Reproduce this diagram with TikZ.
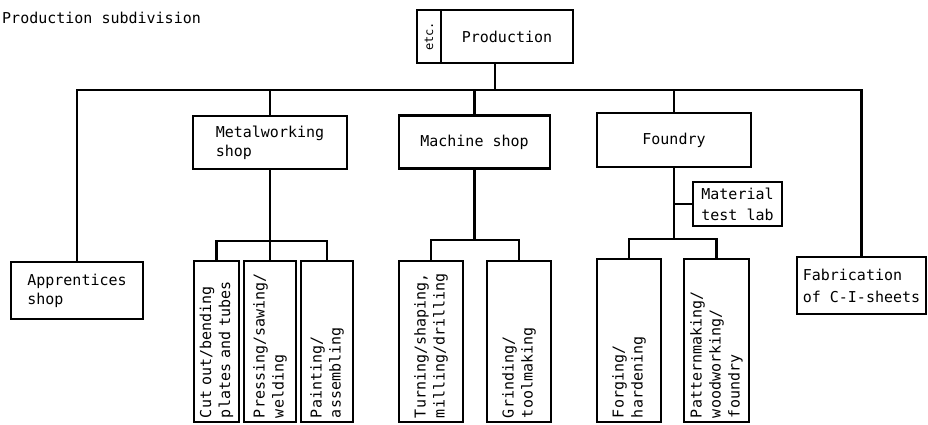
\documentclass[tikz,border=0pt]{standalone}
\usepackage{fontspec}
\setmonofont{DejaVu Sans Mono}
\usetikzlibrary{calc}
\begin{document}
\begin{tikzpicture}[x=1pt,y=-1pt,
  every node/.style={font=\ttfamily\fontsize{15}{19}\selectfont},
  conn/.style={line width=2.2pt, line join=miter},
  hbox/.style={draw, line width=2.2pt, inner sep=0pt, align=left},
  vbox/.style={draw, line width=2.2pt, rotate=90, inner xsep=4pt, inner ysep=0pt,
               align=left, text width=153pt, minimum height=#1},
]
\useasboundingbox (0,0) rectangle (928,424);

% title
\node[anchor=west, inner sep=0pt] (title) at (2,18) {Production subdivision};

% top box
\node[draw, line width=2.2pt, rotate=90, inner sep=0pt, minimum width=53pt,
      minimum height=24pt, font=\ttfamily\fontsize{12}{14}\selectfont] (etc) at (429,36.5) {etc.};
\node[hbox, minimum width=132pt, minimum height=53pt] (prod) at (507,36.5) {Production};
\coordinate (pstem) at ([xshift=-12pt]prod.south);

% second level
\node[hbox, minimum width=132pt, minimum height=57pt] (appr) at (77,290.5) {Apprentices\\shop};
\node[hbox, minimum width=154pt, minimum height=53pt] (metal) at (270,142.5) {Metalworking\\shop};
\node[hbox, minimum width=151pt, minimum height=53pt] (mach) at (474.5,142) {Machine shop};
\node[hbox, minimum width=154pt, minimum height=54pt] (found) at (674,140) {Foundry};
\node[hbox, minimum width=129pt, minimum height=57pt,
      font=\ttfamily\fontsize{15}{22}\selectfont] (fab) at (861.5,285.5) {Fabrication\\of C-I-sheets};
\node[hbox, minimum width=89pt, minimum height=44pt,
      font=\ttfamily\fontsize{15}{21}\selectfont] (mat) at (737.5,204) {Material\\test lab};

% third level (text running upwards)
\node[vbox=45pt]  (cut)     at (216.5,341.5) {Cut out/bending\\plates and tubes};
\node[vbox=52pt]  (press)   at (270,341.5)   {Pressing/sawing/\\welding};
\node[vbox=52pt]  (paint)   at (327,341.5)   {Painting/\\assembling};
\node[vbox=64pt]  (turn)    at (431,341.5)   {Turning/shaping,\\milling/drilling};
\node[vbox=64pt]  (grind)   at (519,341.5)   {Grinding/\\toolmaking};
\node[vbox=64pt, text width=155pt]  (forge)   at (629,340.5)   {Forging/\\hardening};
\node[vbox=65pt, text width=155pt]  (pattern) at (716.5,340.5) {Patternmaking/\\woodworking/\\foundry};

% main bus
\coordinate (bus) at (0,90);
\draw[conn] (appr.north) |- (bus -| fab.north) -- (fab.north);
\draw[conn] (pstem) -- (pstem |- bus);
\draw[conn] (metal.north) -- (metal.north |- bus);
\draw[conn] (mach.north) -- (mach.north |- bus);
\draw[conn] (found.north) -- (found.north |- bus);

% metalworking branches
\draw[conn] (cut.east) -- ++(0,-19) coordinate (cbar) -| (paint.east);
\draw[conn] (metal.south) -- (press.east);

% machine shop branches
\draw[conn] (turn.east) -- ++(0,-20) coordinate (tbar) -| (grind.east);
\draw[conn] (mach.south) -- (mach.south |- tbar);

% foundry branches
\draw[conn] (forge.east) -- ++(0,-19) coordinate (fbar) -| (pattern.east);
\draw[conn] (found.south) -- (found.south |- fbar);
\draw[conn] (mat.west) -- (mat.west -| found.south);
\end{tikzpicture}
\end{document}
